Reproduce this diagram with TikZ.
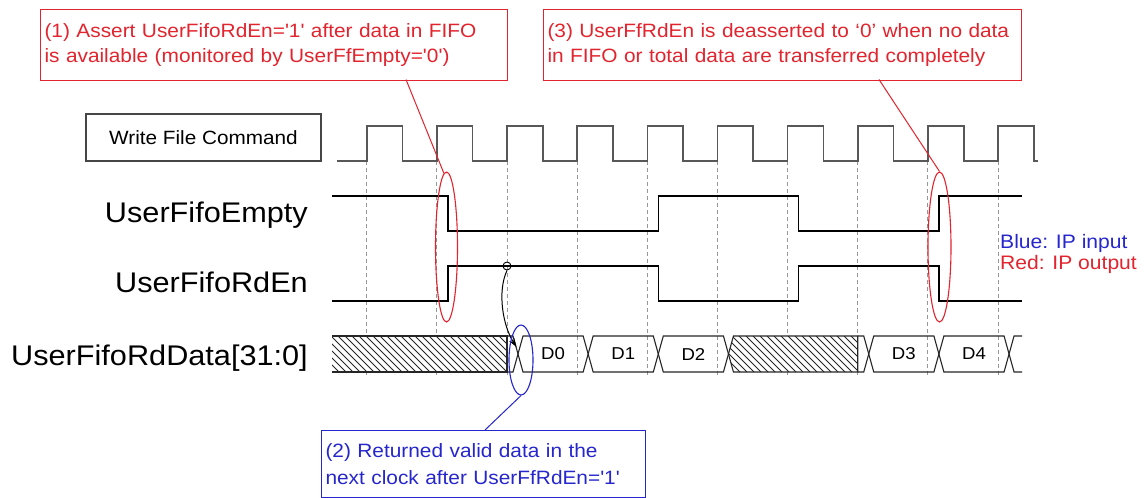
\documentclass[tikz,border=0pt]{standalone}
\usepackage{fontspec}
\newfontfamily\arial{Liberation Sans}[Ligatures=TeXOff, FakeStretch=1.08]
\usetikzlibrary{shapes.geometric,arrows.meta}

\definecolor{notered}{RGB}{226,36,46}
\definecolor{noteblue}{RGB}{38,38,205}
\definecolor{clockgray}{RGB}{88,88,88}
\definecolor{gridgray}{RGB}{150,150,150}
\definecolor{framegray}{RGB}{70,70,70}

\tikzset{
  sig/.style={line width=1.2pt, black, line join=miter},
  clk/.style={line width=1.6pt, clockgray, line join=miter},
  gridline/.style={line width=1pt, gridgray, dash pattern=on 4pt off 3pt},
  bus/.style={line width=1.1pt, black!85},
  hatchline/.style={line width=0.9pt, black!85},
  siglabel/.style={inner sep=0pt, anchor=base east, font=\arial\fontsize{28.4}{30}\selectfont},
  datalabel/.style={inner sep=0pt, font=\arial\fontsize{17.2}{19}\selectfont},
  notebox/.style={draw, line width=1.1pt, anchor=north west, align=left,
    inner xsep=4pt, inner ysep=0pt},
  rednote/.style={notebox, draw=notered, text=notered, font=\arial\fontsize{19.3}{25}\selectfont},
  bluenote/.style={notebox, draw=noteblue, text=noteblue, font=\arial\fontsize{19.3}{26.5}\selectfont},
  redmark/.style={ellipse, draw=notered, line width=1.1pt, inner sep=0pt},
  bluemark/.style={ellipse, draw=noteblue, line width=1.1pt, inner sep=0pt},
  legend/.style={inner sep=0pt, anchor=base west, font=\arial\fontsize{19.5}{21}\selectfont}
}

\begin{document}
\begin{tikzpicture}[x=1pt,y=-1pt]
\useasboundingbox[fill=white] (0,0) rectangle (1144,498);

% clock reference lines at every rising edge
\foreach \k in {0,...,9}
  \draw[gridline] ({366.7+70.15*\k},161) -- ({366.7+70.15*\k},376);

% command box and signal names
\node[draw=framegray, line width=1.2pt, minimum width=235pt, minimum height=47pt,
      inner sep=0pt, font=\arial\fontsize{19.2}{21}\selectfont] (wfc) at (203.5,137.5) {Write File Command};
\node[siglabel] (lempty) at (308,222) {UserFifoEmpty};
\node[siglabel] (lrden) at (308,292) {UserFifoRdEn};
\node[siglabel] (lrdata) at (308,365) {UserFifoRdData[31:0]};

% clock waveform
\draw[clk] (337,161)
  \foreach \k in {0,...,9} {
    -- ({366.7+70.15*\k},161) -- ({366.7+70.15*\k},126)
    -- ({402.5+70.15*\k},126) -- ({402.5+70.15*\k},161)
  } -- (1038,161);

% UserFifoEmpty
\draw[sig] (332,196) -- (447.9,196) -- (447.9,231) -- (658.3,231) -- (658.3,196)
  -- (798.6,196) -- (798.6,231) -- (938.9,231) -- (938.9,196) -- (1022,196);

% UserFifoRdEn
\draw[sig] (332,301) -- (447.9,301) -- (447.9,266) -- (658.3,266) -- (658.3,301)
  -- (798.6,301) -- (798.6,266) -- (938.9,266) -- (938.9,301) -- (1022,301);

% data bus: invalid (hatched) stretches
\fill[white] (332,336) rectangle (507,372);
\begin{scope}
  \clip (332,336) rectangle (507,372);
  \foreach \x in {296,303,...,510}
    \draw[hatchline] (\x,336) -- (\x+36,372);
\end{scope}
\draw[bus] (332,336) -- (507,336) -- (507,372) -- (332,372);
\draw[bus] (507,336) -- (513,336) -- (518,354) -- (513,372) -- (507,372);

\fill[white] (728.45,354) -- (733.45,336) -- (857.75,336) -- (857.75,372) -- (733.45,372) -- cycle;
\begin{scope}
  \clip (728.45,354) -- (733.45,336) -- (857.75,336) -- (857.75,372) -- (733.45,372) -- cycle;
  \foreach \x in {690,697,...,860}
    \draw[hatchline] (\x,336) -- (\x+36,372);
\end{scope}
\draw[bus] (728.45,354) -- (733.45,336) -- (857.75,336) -- (857.75,372) -- (733.45,372) -- cycle;
\draw[bus] (857.75,336) -- (863.75,336) -- (868.75,354) -- (863.75,372) -- (857.75,372);

% data bus: valid words
\foreach \a/\b/\t/\n in {518/588.15/D0/d0, 588.15/658.3/D1/d1, 658.3/728.45/D2/d2,
                         868.75/938.9/D3/d3, 938.9/1009.05/D4/d4} {
  \draw[bus] (\a,354) -- (\a+5,336) -- (\b-5,336) -- (\b,354) -- (\b-5,372) -- (\a+5,372) -- cycle;
  \node[datalabel] (\n) at ({(\a+\b)/2},354) {\t};
}
\draw[bus] (1022,336) -- (1014.05,336) -- (1009.05,354) -- (1014.05,372) -- (1022,372);

% read enable sampled, data returned one clock later
\node[circle, draw, line width=0.9pt, minimum size=8pt, inner sep=0pt] (tap) at (507,266) {};
\coordinate (d0in) at (516.5,347);
\draw[line width=1pt, -{Stealth[length=9pt,width=6pt]}] (tap.south) .. controls (497,292) and (503,326) .. (d0in);

% highlighted edges
\node[redmark, minimum width=22pt, minimum height=150pt] (e1) at (446.5,247) {};
\node[redmark, minimum width=23pt, minimum height=150pt] (e3) at (939.5,247) {};
\node[bluemark, minimum width=24pt, minimum height=70pt] (e2) at (521,360) {};

% notes
\node[rednote, minimum width=467pt, minimum height=71pt, text width=459pt] (note1) at (40,8.5)
  {(1) Assert UserFifoRdEn='1' after data in FIFO\\is available (monitored by UserFfEmpty='0')};
\node[rednote, minimum width=478pt, minimum height=71pt, text width=470pt] (note3) at (543,8.5)
  {(3) UserFfRdEn is deasserted to ‘0’ when no data\\in FIFO or total data are transferred completely};
\node[bluenote, minimum width=324pt, minimum height=67pt, text width=316pt] (note2) at (321,430)
  {(2) Returned valid data in the\\next clock after UserFfRdEn='1'};

\coordinate (n1foot) at (406,79.5);
\coordinate (n3foot) at (879,79.5);
\coordinate (n2head) at (485,430);
\draw[notered, line width=1pt] (n1foot) -- (e1.92);
\draw[notered, line width=1pt] (n3foot) -- (e3.north);
\draw[noteblue, line width=1pt] (e2.south) -- (n2head);

% legend
\node[legend, text=noteblue] (lgin) at (1000,248) {Blue: IP input};
\node[legend, text=notered] (lgout) at (1000,269) {Red: IP output};
\end{tikzpicture}
\end{document}
